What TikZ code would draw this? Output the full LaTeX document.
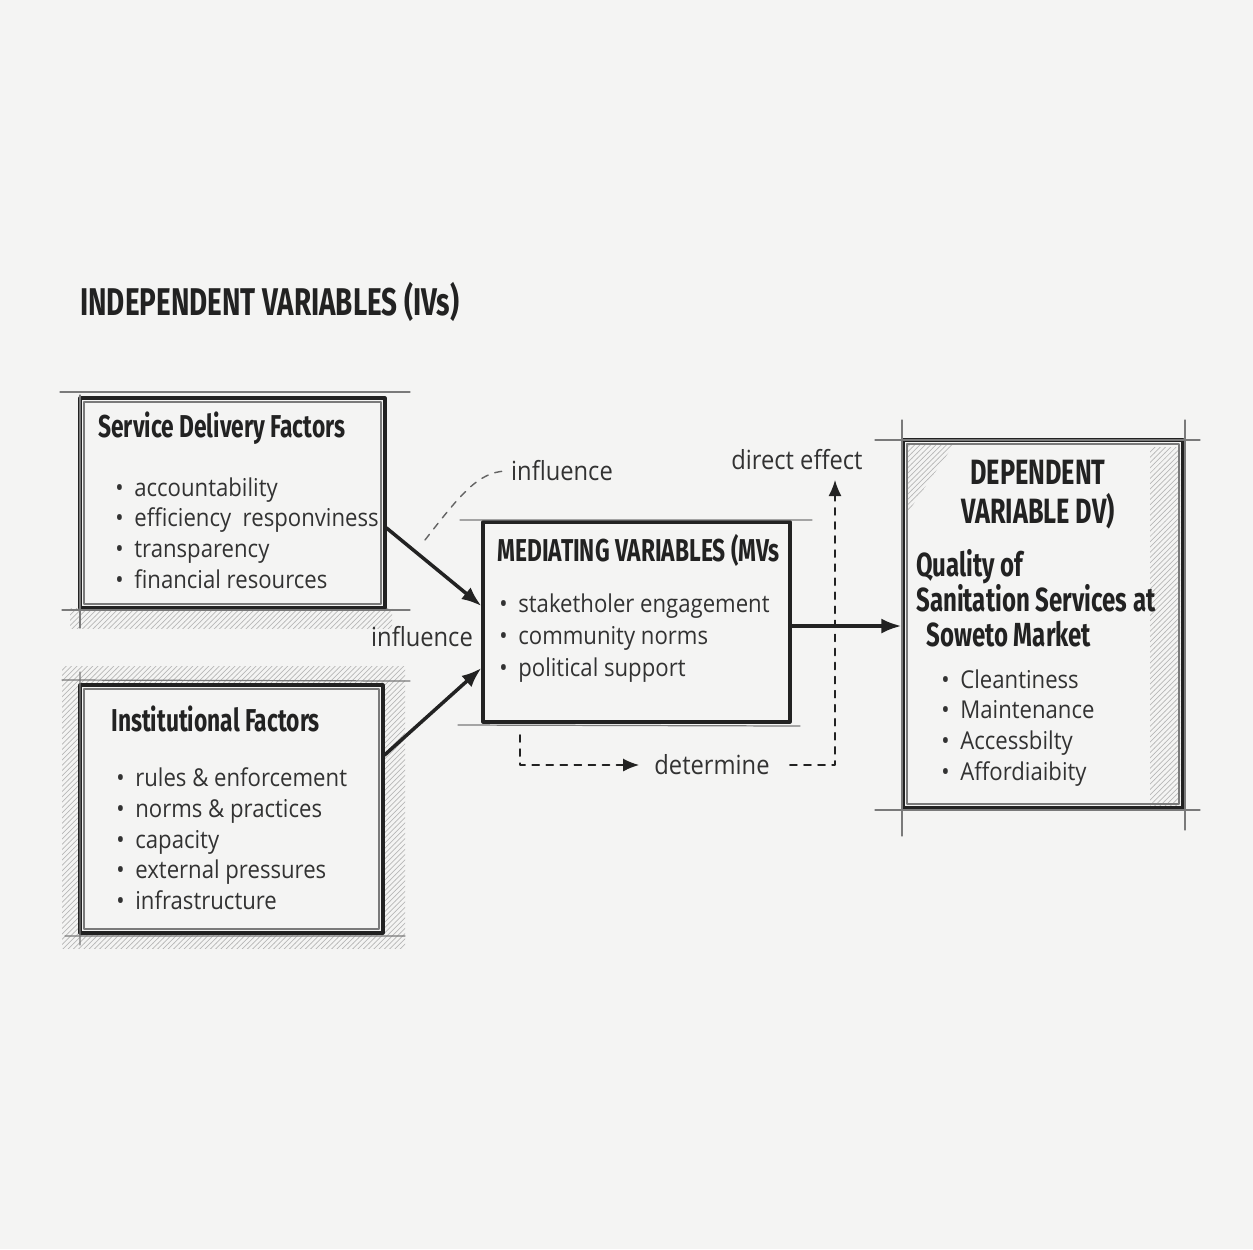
\documentclass[tikz,border=0pt]{standalone}
\usepackage{fontspec}
\setmainfont[FakeStretch=0.9]{Open Sans}
\newfontfamily\headfont[FakeStretch=0.72]{Fira Sans}
\usetikzlibrary{arrows.meta,positioning,patterns,calc}

\definecolor{paper}{RGB}{244,244,243}
\definecolor{inkA}{RGB}{34,34,34}
\definecolor{inkB}{RGB}{50,50,50}

\newcommand\bu{\makebox[0.38cm][l]{\textbullet}}

\tikzset{
	>={Latex[length=4mm, width=3mm]},
	box/.style={draw=inkA, line width=1.8pt, fill=paper, inner sep=0pt},
	hatch/.style={pattern=north east lines, pattern color=black!28, draw=none},
	sketch/.style={draw=inkA!60, line width=0.7pt},
	heading/.style={font=\headfont\bfseries\fontsize{22}{26}\selectfont, text=inkA, inner sep=0pt},
	title/.style={font=\headfont\bfseries\fontsize{18}{21}\selectfont, text=inkA, anchor=west, inner sep=0pt},
	items/.style={font=\fontsize{14}{17.6}\selectfont, text=inkB, anchor=north west, align=left, inner sep=0pt},
	lab/.style={font=\fontsize{15}{18}\selectfont, text=inkB, inner sep=0pt},
	link/.style={->, line width=2pt, draw=inkA},
	dlink/.style={-{Latex[length=3.2mm, width=2.6mm]}, dash pattern=on 4pt off 4pt, line width=0.9pt, draw=inkA},
}

\begin{document}
\begin{tikzpicture}[x=0.02cm, y=-0.02cm, line cap=round, line join=round]
	
	% --- paper
	\fill[paper] (0,0) rectangle (1253,1249);
	\useasboundingbox (0,0) rectangle (1253,1249);
	
	% --- hatching behind the boxes
	\fill[hatch] (70,608) rectangle (392,628);
	\fill[hatch] (62,666) rectangle (405,948);
	
	% --- boxes
	\node[box, minimum width=6.1cm, minimum height=4.2cm] (sdf) at (232.5,503) {};
	\node[box, minimum width=6.06cm, minimum height=4.96cm] (inst) at (231.5,809) {};
	\node[box, minimum width=6.14cm, minimum height=4cm] (mv) at (636.5,622) {};
	\node[box, minimum width=5.6cm, minimum height=7.36cm] (dv) at (1043,624) {};
	\fill[hatch] (1150,447) rectangle (1180,805);
	\fill[hatch] (906,443) -- (955,443) -- (906,515) -- cycle;
	
	% --- sketchy construction lines
	\draw[sketch] (60,392) -- (410,392) (62,610) -- (410,610) (80,395) -- (80,628);
	\draw[sketch] (62,680) -- (410,681) (65,936) -- (405,936) (80,672) -- (80,945);
	\draw[sketch] (460,520) -- (812,520) (458,725) -- (800,726);
	\draw[sketch] (875,440) -- (1200,440) (875,810) -- (1200,810)
		(902,420) -- (902,836) (1185,420) -- (1185,830);
	\draw[sketch] (84,402) rectangle (381,604) (84,689) rectangle (379,929)
		(907,444) rectangle (1179,804);
	
	% --- heading
	\node[heading, anchor=west] (ivs) at (80,302) {INDEPENDENT VARIABLES (IVs)};
	
	% --- service delivery
	\node[title] (sdft) at (98,428) {Service Delivery Factors};
	\node[items] (sdfi) at (115,477) {\bu accountability\\ \bu efficiency\ \ responviness\\
		\bu transparency\\ \bu financial resources};
	
	% --- institutional
	\node[title] (instt) at (111,719) {Institutional Factors};
	\node[items] (insti) at (116,767) {\bu rules \& enforcement\\ \bu norms \& practices\\
		\bu capacity\\ \bu external pressures\\ \bu infrastructure};
	
	% --- mediating
	\node[title] (mvt) at (497,550) {MEDIATING VARIABLES (MVs};
	\node[items, font=\fontsize{14}{18.4}\selectfont] (mvi) at (499,593) {\bu staketholer engagement\\ \bu community norms\\
		\bu political support};
	
	% --- dependent
	\node[heading, align=center, anchor=north, font=\headfont\bfseries\fontsize{20}{22}\selectfont]
		(dvt) at (1038,460) {DEPENDENT\\VARIABLE DV)};
	\node[title, anchor=north west, align=left, font=\headfont\bfseries\fontsize{19}{19.8}\selectfont]
		(dvq) at (916,549) {Quality of\\Sanitation Services at\\\hspace{0.2cm}Soweto Market};
	\node[items] (dvi) at (941,669) {\bu Cleantiness\\ \bu Maintenance\\
		\bu Accessbilty\\ \bu Affordiaibity};
	
	% --- labels
	\node[lab] (infa) at (562,471) {influence};
	\node[lab] (infb) at (422,637) {influence};
	\node[lab] (det) at (712,765) {determine};
	\node[lab] (deff) at (797,460) {direct effect};
	\coordinate (dash0) at (425,540);
	\coordinate (mvlow) at (520,735);
	\coordinate (up) at (835,480);
	
	% --- connectors
	\draw[link] ([yshift=-0.5cm]sdf.east) -- ([yshift=0.32cm]mv.west);
	\draw[link] ([yshift=1.08cm]inst.east) -- ([yshift=-0.92cm]mv.west);
	\draw[link] ([yshift=-0.08cm]mv.east) -- ([yshift=-0.08cm]mv.east -| dv.west);
	\draw[inkA!70, dash pattern=on 4pt off 4pt, line width=0.8pt]
		(dash0) .. controls (460,495) and (478,472) .. ([xshift=-0.1cm]infa.west);
	\draw[dlink] (mvlow) |- ([xshift=-0.3cm]det.west);
	\draw[dlink] ([xshift=0.4cm]det.east) -| (up);
	
\end{tikzpicture}
\end{document}
